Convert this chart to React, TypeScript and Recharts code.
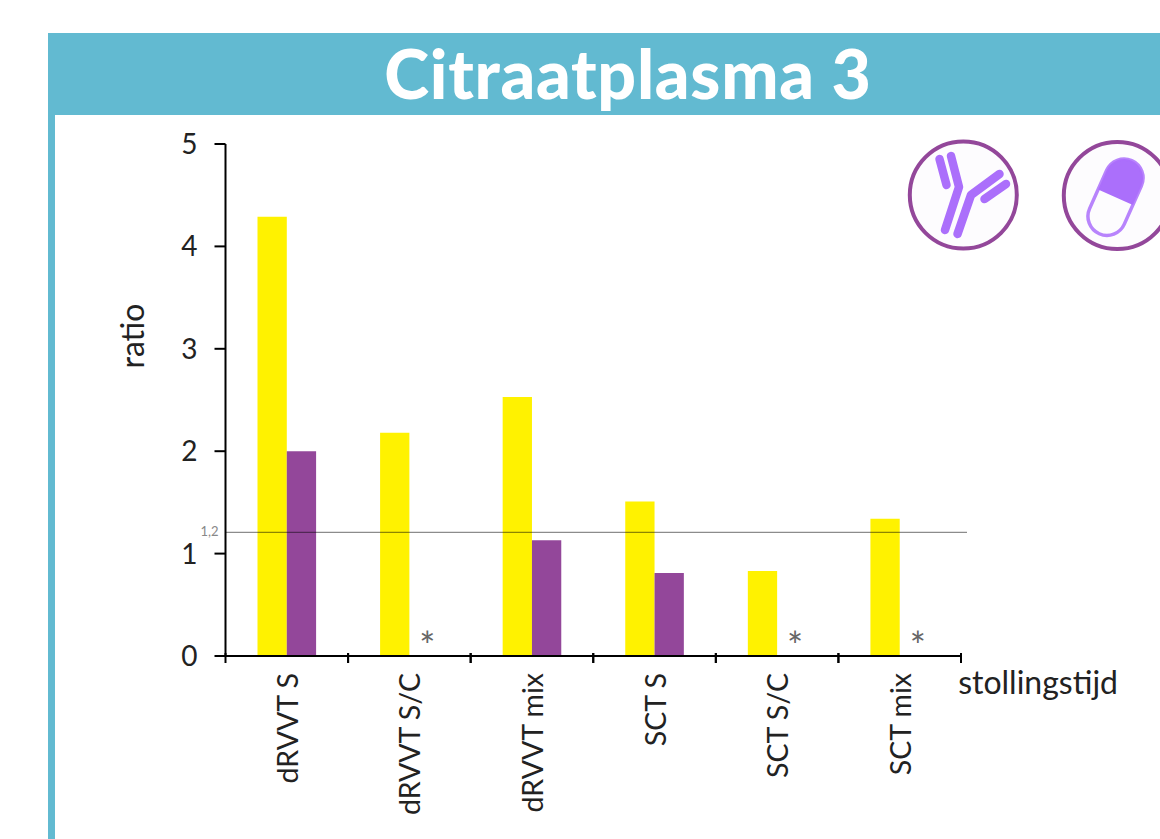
import React from "react";
import { ComposedChart, Bar, Line, XAxis, YAxis, ReferenceLine } from "recharts";

const categories = ["dRVVT S", "dRVVT S/C", "dRVVT mix", "SCT S", "SCT S/C", "SCT mix"];
const yellowValues = [4.29, 2.18, 2.53, 1.51, 0.83, 1.34];
const purpleValues = [2.0, null, 1.13, 0.81, null, null];
const notMeasured = [null, 0, null, null, 0, 0];
const yTicks = [0, 1, 2, 3, 4, 5];
const cutoff = 1.2;
const cutoffLabel = "1,2";

const data = categories.map((name, i) => ({
  name,
  yellow: yellowValues[i],
  purple: purpleValues[i],
  star: notMeasured[i],
}));

const FONT = "Lato, sans-serif";
const PURPLE = "#93479A";
const ICON = "#AB6FFB";
const TEAL = "#62BAD1";

const XTick = (props: any) => {
  const { x, y, payload } = props;
  const half = payload.offset ?? 61.3;
  const axisY = y - 8;
  return (
    <g>
      <line x1={x - half} x2={x - half} y1={axisY - 1} y2={axisY + 9} stroke="#000" strokeWidth={2} />
      <line x1={x + half} x2={x + half} y1={axisY - 1} y2={axisY + 9} stroke="#000" strokeWidth={2} />
      <text
        transform={`translate(${x + 11},${axisY + 19}) rotate(-90)`}
        textAnchor="end"
        fontFamily={FONT}
        fontSize={28.5}
        fill="#222"
      >
        {payload.value}
      </text>
    </g>
  );
};

const StarLabel = (props: any) => {
  const { x, y, value } = props;
  if (value === null || value === undefined) return null;
  return (
    <text x={x + 18} y={y + 4} textAnchor="middle" fontFamily={FONT} fontSize={38} fill="#666">
      *
    </text>
  );
};

const CutoffLine = (props: any) => {
  const { x1, x2, y1 } = props;
  return (
    <g>
      <line x1={x1} x2={x2 + 6} y1={y1 - 0.7} y2={y1 - 0.7} stroke="#000" strokeOpacity={0.45} strokeWidth={1.2} />
      <text x={x1 - 7} y={y1 + 3} textAnchor="end" fontFamily={FONT} fontSize={13} fill="#888">
        {cutoffLabel}
      </text>
    </g>
  );
};

const AntibodyIcon = () => (
  <g fill="none" stroke={ICON} strokeWidth={8.5} strokeLinecap="round" strokeLinejoin="round">
    <path d="M939.5 159 L946.5 185" />
    <path d="M951 156 L959 187 L945 230" />
    <path d="M957.5 234 L971 195 L999.5 174" />
    <path d="M984.5 199 L1006 184" />
  </g>
);

const PillIcon = () => (
  <g transform="translate(1115.5 197.2) rotate(24)">
    <path d="M-19 0 L-19 -21 A19 19 0 0 1 19 -21 L19 0 Z" fill={ICON} />
    <rect x={-19} y={-40} width={38} height={80} rx={19} fill="none" stroke={ICON} strokeWidth={3.5} opacity={0.85} />
  </g>
);

export default function App() {
  return (
    <div style={{ position: "absolute", left: 0, top: 0, width: 1160, height: 839, overflow: "hidden", background: "#fff" }}>
      <div style={{ position: "absolute", left: 48, top: 33, width: 7, height: 806, background: TEAL }} />
      <div
        style={{
          position: "absolute",
          left: 48,
          top: 33,
          width: 1112,
          height: 82,
          background: TEAL,
          color: "#fff",
          fontFamily: FONT,
          fontWeight: 900,
          fontSize: 68,
          letterSpacing: 0.7,
          lineHeight: "79px",
          textAlign: "center",
          paddingLeft: 48,
          boxSizing: "border-box",
        }}
      >
        Citraatplasma 3
      </div>
      <ComposedChart
        width={1160}
        height={839}
        data={data}
        margin={{ top: 144, right: 199, bottom: 0, left: 0 }}
        barGap={0}
        style={{ position: "absolute", left: 0, top: 0 }}
      >
        <XAxis
          dataKey="name"
          height={183}
          interval={0}
          axisLine={{ stroke: "#000", strokeWidth: 2 }}
          tickLine={false}
          tick={<XTick />}
          tickMargin={0}
          label={{ value: "stollingstijd", position: "insideTopRight", dx: 162, dy: 10, fontFamily: FONT, fontSize: 32, fill: "#222" }}
        />
        <YAxis
          width={225.5}
          domain={[0, 5]}
          ticks={yTicks}
          interval={0}
          tickSize={11}
          tickMargin={17}
          axisLine={{ stroke: "#000", strokeWidth: 2 }}
          tickLine={{ stroke: "#000", strokeWidth: 2 }}
          tick={{ fontFamily: FONT, fontSize: 28, fill: "#222" }}
          label={{ value: "ratio", angle: -90, position: "insideLeft", dx: 128, dy: -64, fontFamily: FONT, fontSize: 32, fill: "#222", style: { textAnchor: "middle" } }}
        />
        <Bar dataKey="yellow" fill="#FFF200" barSize={29.3} isAnimationActive={false} />
        <Bar dataKey="purple" fill={PURPLE} barSize={29.3} isAnimationActive={false} />
        <Line dataKey="star" stroke="none" dot={false} activeDot={false} label={<StarLabel />} legendType="none" isAnimationActive={false} />
        <ReferenceLine y={cutoff} shape={<CutoffLine />} />
      </ComposedChart>
      <svg width={1160} height={839} style={{ position: "absolute", left: 0, top: 0, pointerEvents: "none" }}>
        <circle cx={963.3} cy={195} r={53.5} fill="#FDFCFE" stroke={PURPLE} strokeWidth={4} />
        <AntibodyIcon />
        <circle cx={1117.3} cy={195.5} r={53.5} fill="#FDFCFE" stroke={PURPLE} strokeWidth={4} />
        <PillIcon />
      </svg>
    </div>
  );
}
